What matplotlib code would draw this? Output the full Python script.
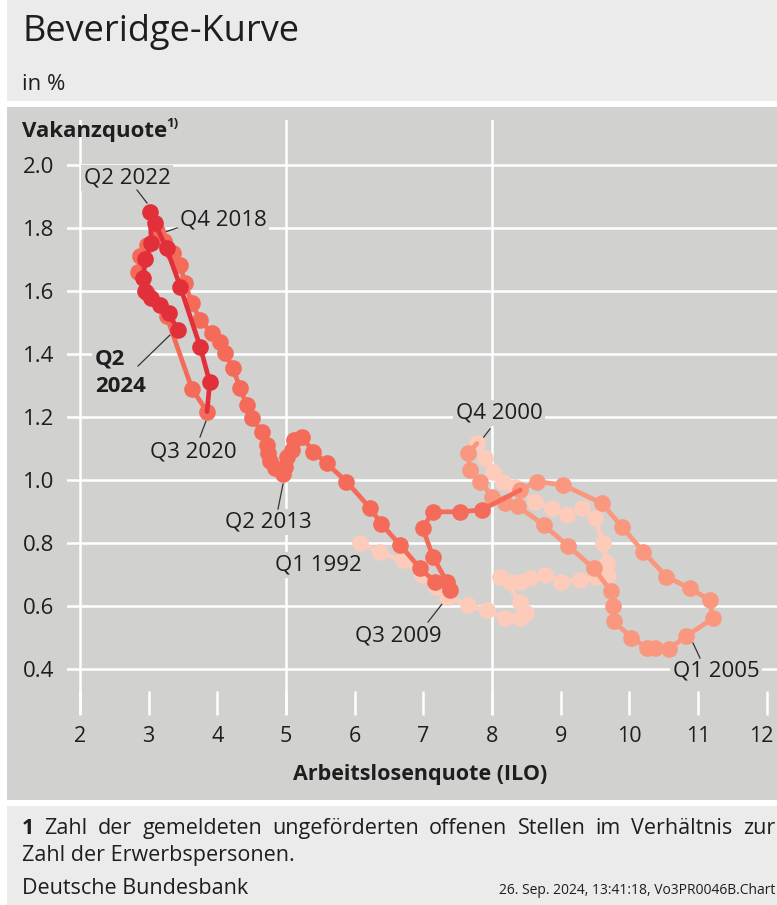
import matplotlib
matplotlib.use("Agg")
import matplotlib.pyplot as plt
import matplotlib.transforms as mtransforms
from matplotlib.patches import Rectangle

plt.rcParams['font.family'] = ['Open Sans', 'DejaVu Sans']

# ---------------- data ----------------
# 1992 Q1 - 2000 Q4
u_1992 = [6.08, 6.37, 6.70, 6.98, 7.18, 7.34, 7.65, 7.92, 8.19, 8.41, 8.50, 8.41, 8.12, 8.26,
          8.41, 8.55, 8.77, 9.01, 9.28, 9.52, 9.69, 9.67, 9.62, 9.50, 9.31, 9.09, 8.87, 8.63,
          8.33, 8.16, 8.02, 7.90, 7.78]
v_1992 = [0.80, 0.77, 0.745, 0.70, 0.66, 0.63, 0.603, 0.587, 0.561, 0.561, 0.577, 0.614, 0.693, 0.677,
          0.677, 0.688, 0.698, 0.677, 0.683, 0.693, 0.698, 0.735, 0.80, 0.878, 0.910, 0.889, 0.910, 0.931,
          0.979, 0.995, 1.026, 1.069, 1.116]
# 2001 Q1 - 2007 Q4
u_2001 = [7.65, 7.68, 7.83, 8.00, 8.19, 8.38, 8.75, 9.11, 9.48, 9.73, 9.76, 9.77, 10.03, 10.25,
          10.37, 10.57, 10.83, 11.22, 11.17, 10.88, 10.54, 10.20, 9.89, 9.60, 9.04, 8.65, 8.41]
v_2001 = [1.085, 1.032, 0.995, 0.947, 0.926, 0.916, 0.858, 0.79, 0.72, 0.648, 0.60, 0.552, 0.50, 0.468,
          0.468, 0.462, 0.505, 0.561, 0.619, 0.656, 0.693, 0.773, 0.852, 0.926, 0.984, 0.995, 0.968]
# 2008 Q1 - 2020 Q3
u_2008 = [7.85, 7.53, 7.14, 6.99, 7.14, 7.34, 7.39, 7.17, 6.95, 6.66, 6.39, 6.22, 5.88, 5.59,
          5.40, 5.23, 5.11, 5.08, 5.01, 4.99, 4.96, 4.84, 4.77, 4.74, 4.72, 4.65, 4.50, 4.43,
          4.33, 4.23, 4.11, 4.04, 3.92, 3.75, 3.63, 3.53, 3.46, 3.35, 3.22, 3.12, 2.98, 2.88,
          2.85, 2.98, 3.26, 3.63, 3.85]
v_2008 = [0.905, 0.899, 0.899, 0.847, 0.757, 0.677, 0.651, 0.677, 0.720, 0.794, 0.86, 0.912, 0.995, 1.053,
          1.09, 1.137, 1.127, 1.095, 1.074, 1.04, 1.02, 1.037, 1.06, 1.085, 1.111, 1.153, 1.196, 1.238,
          1.291, 1.355, 1.402, 1.439, 1.466, 1.508, 1.561, 1.624, 1.683, 1.72, 1.76, 1.79, 1.745, 1.71,
          1.66, 1.595, 1.52, 1.29, 1.217]
# 2020 Q4 - 2024 Q2
u_2020 = [3.89, 3.75, 3.46, 3.26, 3.09, 3.02, 3.04, 2.95, 2.92, 2.95, 3.04, 3.17, 3.29, 3.43]
v_2020 = [1.31, 1.423, 1.614, 1.736, 1.815, 1.852, 1.751, 1.70, 1.64, 1.60, 1.577, 1.556, 1.529, 1.476]

x_ticks = [2, 3, 4, 5, 6, 7, 8, 9, 10, 11, 12]
y_ticks = [0.4, 0.6, 0.8, 1.0, 1.2, 1.4, 1.6, 1.8, 2.0]
x_grid = [2, 5, 8]

# ---------------- layout ----------------
W, H = 777, 905
BG_HEAD = '#ebebeb'
BG_PANEL = '#d1d1d0'
TXT = '#1e1e1e'
colors = ['#fccbba', '#f9977f', '#f46b5a', '#e2303a']

fig = plt.figure(figsize=(W / 100, H / 100), dpi=100)
fig.patch.set_facecolor('white')


def frect(x0, y0, x1, y1, color):
    r = Rectangle((x0 / W, 1 - y1 / H), (x1 - x0) / W, (y1 - y0) / H,
                  transform=fig.transFigure, facecolor=color, edgecolor='none', zorder=-10)
    fig.add_artist(r)


frect(7, 0, W, 101, BG_HEAD)
frect(7, 107, W, 800, BG_PANEL)
frect(7, 806, W, H, BG_HEAD)


def ftext(x, y, s, **kw):
    return fig.text(x / W, 1 - y / H, s, **kw)


ftext(22, 41, 'Beveridge-Kurve', fontsize=26, color=TXT, va='baseline')
ftext(22, 90, 'in %', fontsize=16, color=TXT, va='baseline')
ftext(22, 137, 'Vakanzquote', fontsize=16, fontweight='bold', color=TXT, va='baseline')
ftext(166, 127, '1)', fontsize=9.5, fontweight='bold', color=TXT, va='baseline')

# axes: left px 67, right px 777, top px 120, bottom px 715
ax_l, ax_r, ax_t, ax_b = 67, 777, 120, 715
ax = fig.add_axes([ax_l / W, 1 - ax_b / H, (ax_r - ax_l) / W, (ax_b - ax_t) / H])
ax.set_facecolor('none')
x0 = 2 + (ax_l - 80) / 68.67
x1 = 2 + (ax_r - 80) / 68.67
y0 = 2.0 - (ax_b - 165) / 315
y1 = 2.0 - (ax_t - 165) / 315
ax.set_xlim(x0, x1)
ax.set_ylim(y0, y1)
for s in ax.spines.values():
    s.set_visible(False)

for yv in y_ticks:
    ax.axhline(yv, color='white', lw=1.8, zorder=1)
for xv in x_grid:
    ax.axvline(xv, color='white', lw=1.8, zorder=1)

ax.set_xticks(x_ticks)
ax.set_xticklabels([str(t) for t in x_ticks])
ax.set_yticks(y_ticks)
ax.set_yticklabels([f'{t:.1f}' for t in y_ticks])
ax.tick_params(axis='x', direction='in', length=17, width=1.8, color='white',
               labelsize=15.5, labelcolor=TXT, pad=8)
ax.tick_params(axis='y', length=0, labelsize=16, labelcolor=TXT, pad=9)
last = ax.get_xticklabels()[-1]
last.set_transform(last.get_transform() +
                   mtransforms.ScaledTranslation(-5 / 100, 0, fig.dpi_scale_trans))

# series
segments = [(u_1992, v_1992), (u_2001, v_2001), (u_2008, v_2008), (u_2020, v_2020)]
prev = None
for i, ((us, vs), c) in enumerate(zip(segments, colors)):
    lu = list(us)
    lv = list(vs)
    if prev is not None:
        lu = [prev[0]] + lu
        lv = [prev[1]] + lv
    ax.plot(lu, lv, color=c, lw=3.4, zorder=3 + 2 * i, solid_capstyle='round')
    ax.plot(us, vs, 'o', color=c, ms=12, mew=0, zorder=4 + 2 * i)
    prev = (us[-1], vs[-1])


def px2d(xp, yp):
    return 2 + (xp - 80) / 68.67, 2.0 - (yp - 165) / 315


def label(xp, yp, s, ha='center', bold=False, leader=None):
    x, y = px2d(xp, yp)
    ax.text(x, y, s, ha=ha, va='center', fontsize=16, color=TXT,
            fontweight='bold' if bold else 'normal', linespacing=1.4,
            bbox=dict(boxstyle='square,pad=0.12', fc=BG_PANEL, ec='none'), zorder=2)
    if leader is not None:
        (a, b), (c, d) = leader
        p = px2d(a, b)
        q = px2d(c, d)
        ax.plot([p[0], q[0]], [p[1], q[1]], color='#333333', lw=0.9, zorder=2)


label(127, 178, 'Q2 2022', leader=((137, 190), (147, 203)))
label(180, 220, 'Q4 2018', ha='left', leader=((177, 228), (162, 233)))
label(95, 373, 'Q2\n2024', ha='left', bold=True, leader=((138, 366), (170, 335)))
label(193, 452, 'Q3 2020', leader=((200, 437), (206, 421)))
label(268, 522, 'Q2 2013', leader=((278, 509), (283, 484)))
label(318, 565, 'Q1 1992')
label(398, 636, 'Q3 2009', leader=((428, 622), (446, 599)))
label(499, 413, 'Q4 2000', leader=((483, 438), (490, 429)))
label(716, 671, 'Q1 2005', leader=((693, 643), (700, 658)))

ftext(420, 780, 'Arbeitslosenquote (ILO)', fontsize=15.5, fontweight='bold', color=TXT,
      ha='center', va='baseline')

# footnote, justified first line
fig.canvas.draw()
renderer = fig.canvas.get_renderer()
words = 'Zahl der gemeldeten ungeförderten offenen Stellen im Verhältnis zur'.split()
items = [('1', 'bold')] + [(w, 'normal') for w in words]
arts = []
for w, fw in items:
    t = ftext(0, 834, w, fontsize=15.5, fontweight=fw, color=TXT, va='baseline')
    arts.append(t)
widths = [a.get_window_extent(renderer).width for a in arts]
start, end = 22, 775
gap = (end - start - sum(widths)) / (len(arts) - 1)
xpos = start
for a, wd in zip(arts, widths):
    a.set_x(xpos / W)
    xpos += wd + gap

ftext(22, 861, 'Zahl der Erwerbspersonen.', fontsize=15.5, color=TXT, va='baseline')
ftext(22, 894, 'Deutsche Bundesbank', fontsize=15.5, color=TXT, va='baseline')
ftext(775, 894, '26. Sep. 2024, 13:41:18, Vo3PR0046B.Chart', fontsize=10, color=TXT,
      ha='right', va='baseline')

fig.savefig('out.png', dpi=100, facecolor='white')
